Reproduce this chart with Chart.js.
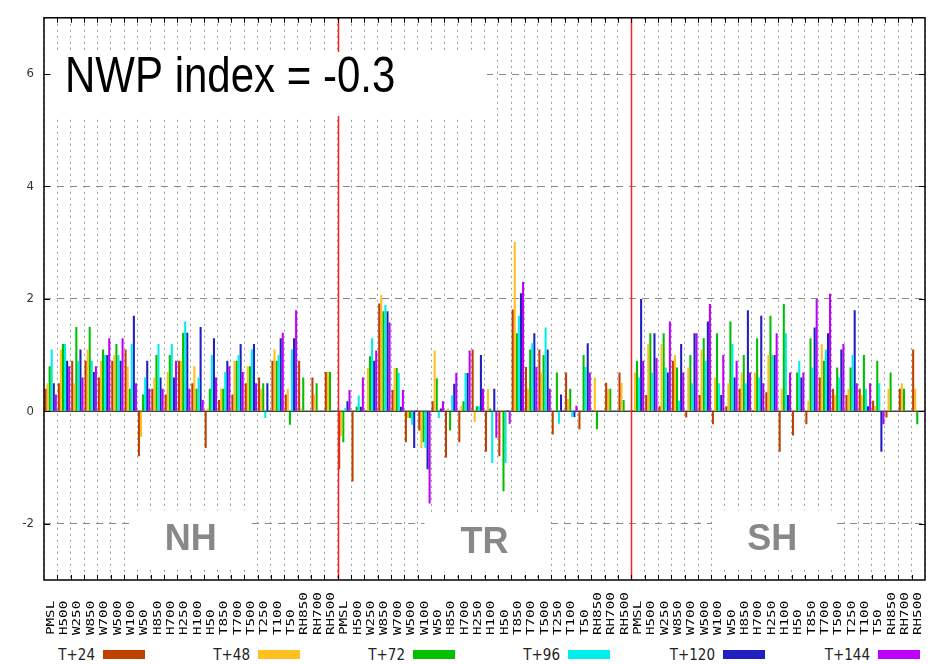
<!DOCTYPE html>
<html><head><meta charset="utf-8">
<script src="https://cdn.jsdelivr.net/npm/chart.js@4.4.1/dist/chart.umd.min.js"></script>
<style>
html,body{margin:0;padding:0;background:#fff;width:937px;height:664px;overflow:hidden}
#wrap{position:relative;width:937px;height:645px}
#legend{position:absolute;left:43px;top:645px;height:19px;display:flex;font-family:"DejaVu Sans Condensed","DejaVu Sans",sans-serif;font-size:15px;color:#222}
.item{width:155px;display:flex;align-items:center;height:19px}
.item span{width:52px;text-align:right;margin-right:8px;white-space:nowrap}
.item i{display:inline-block;width:42px;height:9px}
</style></head><body>
<div id="wrap"><canvas id="c" width="937" height="645"></canvas></div>
<div id="legend"></div>
<script>
const categories = ['PMSL','H500','W250','W850','W700','W500','W100','W50','H850','H700','H250','H100','H50','T850','T700','T500','T250','T100','T50','RH850','RH700','RH500'];
const regions = ['NH','TR','SH'];
const seriesNames = ['T+24','T+48','T+72','T+96','T+120','T+144'];
const seriesColors = ['#c04000','#ffc020','#00c000','#00eeee','#2020c0','#c000ff'];
const yTicks = [-2,0,2,4,6];
const indexText = 'NWP index = -0.3';

const t24 = [
 0.4,0.5,0.9,0.9,0.6,0.9,1.1,-0.8,0.4,0.3,0.9,0.5,-0.65,0.2,0.3,0.5,0.6,0.9,0.3,0.9,0.6,0.7,
 -1.03,-1.25,0.02,1.92,0.38,-0.55,-0.34,0.18,-0.82,-0.55,1.1,-0.72,-0.8,1.81,0.79,1.1,-0.41,0.69,-0.32,0.02,0.51,0.69,
 0.02,0.29,0.09,0.9,-0.11,0.29,-0.23,0.09,0.4,0.02,0.34,-0.72,-0.43,-0.23,0.6,0.4,0.29,0.4,0.19,-0.11,0.4,1.1];
const t48 = [
 0.5,1.1,0.5,1.1,0.9,1.0,0.8,-0.45,0.6,0.7,0.9,0.8,0.05,0.4,0.9,0.8,0.4,1.1,0.4,0.05,0.3,0.7,
 -0.44,0.02,0.77,2.07,0.77,-0.12,-0.65,1.08,0.05,0.1,-0.19,0.4,0.02,3.01,0.4,0.69,0.02,0.22,0.02,0.6,0.4,0.51,
 0.69,1.2,1.2,1.0,0.78,1.1,0.6,0.5,0.69,0.69,1.0,0.4,0.02,0.19,1.2,0.29,0.4,0.29,0.09,0.4,0.5,0.4];
const t72 = [
 0.8,1.2,1.5,1.5,1.1,1.2,0.4,0.3,1.0,1.0,1.4,0.4,0.4,0.4,0.9,0.8,0.5,0.9,-0.24,0.6,0.5,0.7,
 -0.55,0.08,0.98,1.78,0.77,-0.12,-0.55,0.59,-0.34,0.18,0.09,0.05,-1.42,1.39,1.1,1.0,0.69,0.4,1.0,-0.32,0.4,0.2,
 0.9,1.39,1.39,0.78,1.0,1.3,1.39,1.6,1.0,1.3,1.7,1.91,0.69,1.3,0.9,0.78,0.78,1.0,0.9,0.69,0.4,-0.23];
const t96 = [
 1.1,1.2,0.9,0.9,1.0,1.0,1.2,0.6,1.2,1.2,1.6,0.6,1.0,0.7,1.0,1.1,-0.12,1.0,1.1,null,null,null,
 0.06,0.28,1.3,1.89,0.68,-0.24,-0.65,-0.12,0.28,0.68,0.09,-0.92,-0.92,1.7,1.21,1.49,-0.22,-0.1,0.79,null,null,null,
 0.6,0.69,0.78,0.19,0.5,0.9,0.5,1.2,0.5,0.6,1.0,1.39,0.9,0.78,1.1,0.6,1.0,0.4,0.5,null,null,null];
const t120 = [
 0.5,0.9,1.1,0.7,1.0,0.9,1.7,0.9,0.6,0.6,1.4,1.5,1.3,0.9,1.2,1.2,0.5,1.3,1.3,null,null,null,
 0.18,0.08,0.9,1.78,0.08,-0.65,-1.03,0.05,0.49,0.68,1.0,0.4,0.02,2.1,1.39,1.1,0.3,-0.1,1.21,null,null,null,
 2.0,1.39,0.69,1.2,1.39,1.6,0.29,0.6,1.8,1.7,1.0,0.29,0.6,1.49,1.39,1.1,1.8,0.09,-0.72,null,null,null];
const t144 = [
 0.3,0.8,0.6,0.8,1.3,1.3,0.5,0.4,0.4,0.9,0.4,0.2,0.6,0.8,0.7,0.5,0.02,1.4,1.8,null,null,null,
 0.38,0.6,1.08,1.58,0.38,0.02,-1.64,0.18,0.68,1.08,0.4,-0.47,-0.22,2.3,0.79,0.4,0.02,0.1,0.69,null,null,null,
 0.9,0.95,1.6,0.69,1.39,1.91,1.0,0.9,0.69,0.5,1.39,0.69,0.69,2.0,2.09,1.2,0.5,0.5,-0.23,null,null,null];

const seriesValues = [t24,t48,t72,t96,t120,t144];
const labels = regions.flatMap(() => categories);
const nCat = categories.length;

const decor = {
  id:'decor',
  beforeDatasetsDraw(chart){
    const {ctx, chartArea:a, scales:{y}} = chart;
    const y0 = y.getPixelForValue(0);
    ctx.save();
    ctx.strokeStyle='#444'; ctx.lineWidth=1.5;
    ctx.beginPath(); ctx.moveTo(a.left,y0); ctx.lineTo(a.right,y0); ctx.stroke();
    ctx.restore();
  },
  afterDatasetsDraw(chart){
    const {ctx, chartArea:a, scales:{x,y}} = chart;
    const bound = i => (x.getPixelForValue(i-1)+x.getPixelForValue(i))/2;
    ctx.save();
    ctx.strokeStyle='#ff2020'; ctx.lineWidth=1.5;
    for(let r=1;r<regions.length;r++){
      const bx = Math.round(bound(r*nCat))+0.5;
      ctx.beginPath(); ctx.moveTo(bx,a.top); ctx.lineTo(bx,a.bottom); ctx.stroke();
    }
    ctx.strokeStyle='#000'; ctx.lineWidth=1;
    for(let i=1;i<labels.length;i++){
      const bx = Math.round(bound(i))+0.5;
      ctx.beginPath();
      ctx.moveTo(bx,a.bottom); ctx.lineTo(bx,a.bottom-5);
      ctx.moveTo(bx,a.top); ctx.lineTo(bx,a.top+5);
      ctx.stroke();
    }
    yTicks.forEach(v=>{
      const py = Math.round(y.getPixelForValue(v))+0.5;
      ctx.beginPath();
      ctx.moveTo(a.left,py); ctx.lineTo(a.left+6,py);
      ctx.moveTo(a.right,py); ctx.lineTo(a.right-6,py);
      ctx.stroke();
    });
    // index box
    ctx.fillStyle='#fff';
    ctx.fillRect(a.left+8, y.getPixelForValue(6)-22, 435, 64);
    ctx.fillStyle='#000';
    ctx.save();
    ctx.font='50px "Liberation Sans",Arial,sans-serif';
    ctx.textBaseline='alphabetic'; ctx.textAlign='left';
    ctx.translate(a.left+21, y.getPixelForValue(6)+18);
    ctx.scale(0.84,1);
    ctx.fillText(indexText, 0, 0);
    ctx.restore();
    // region labels
    ctx.font='bold 36px "Liberation Sans",Arial,sans-serif';
    ctx.textAlign='center'; ctx.textBaseline='middle';
    regions.forEach((r,k)=>{
      const cx = (bound(k*nCat)+ (k===regions.length-1 ? a.right : bound((k+1)*nCat)))/2 - (k===2?6:0);
      const cy = y.getPixelForValue(-2.28) + (k===1?3:0);
      ctx.fillStyle='#fff';
      ctx.fillRect(cx-60, cy-29, 121, 58);
      ctx.fillStyle='#888';
      ctx.fillText(r, cx, cy+1);
    });
    ctx.strokeStyle='#000'; ctx.lineWidth=1.5;
    ctx.strokeRect(a.left,a.top,a.right-a.left,a.bottom-a.top);
    ctx.restore();
  },
  afterDraw(chart){
    const {ctx, chartArea:a, scales:{x}} = chart;
    ctx.save();
    ctx.fillStyle='#000';
    ctx.font='10px "DejaVu Sans Mono",monospace';
    ctx.textAlign='left'; ctx.textBaseline='middle';
    labels.forEach((lab,i)=>{
      const px = x.getPixelForValue(i);
      ctx.save();
      ctx.translate(px, a.bottom+55);
      ctx.rotate(-Math.PI/2);
      ctx.scale(1.42,1);
      ctx.fillText(lab,0,0.5);
      ctx.restore();
    });
    ctx.restore();
  }
};

new Chart(document.getElementById('c'), {
  type:'bar',
  data:{
    labels: labels,
    datasets: seriesNames.map((n,i)=>({label:n, data:seriesValues[i], backgroundColor:seriesColors[i], borderWidth:0, categoryPercentage:0.93, barPercentage:1.0}))
  },
  options:{
    responsive:false, animation:false, devicePixelRatio:1,
    layout:{padding:{top:8,right:12,left:0,bottom:0}},
    plugins:{legend:{display:false}, tooltip:{enabled:false}},
    scales:{
      x:{
        offset:true,
        grid:{display:true, offset:true, color:'#9a9a9a', lineWidth:1, drawTicks:false},
        border:{display:false, dash:[2,4]},
        ticks:{display:false},
        afterFit(s){ s.height = 65; }
      },
      y:{
        min:-3, max:7,
        afterBuildTicks(s){ s.ticks = yTicks.map(v=>({value:v})); },
        grid:{color:(c)=> (c.tick && c.tick.value!==0) ? '#8a8a8a' : 'rgba(0,0,0,0)', lineWidth:1, drawTicks:false},
        border:{display:false, dash:[7,6]},
        ticks:{color:'#333', padding:10, font:{family:'"DejaVu Sans Condensed","DejaVu Sans",sans-serif', size:13}},
        afterFit(s){ s.width = 44; }
      }
    }
  },
  plugins:[decor]
});

const lg = document.getElementById('legend');
seriesNames.forEach((n,i)=>{
  const d=document.createElement('div'); d.className='item';
  const s=document.createElement('span'); s.textContent=n;
  const b=document.createElement('i'); b.style.background=seriesColors[i];
  d.appendChild(s); d.appendChild(b); lg.appendChild(d);
});
</script>
</body></html>
